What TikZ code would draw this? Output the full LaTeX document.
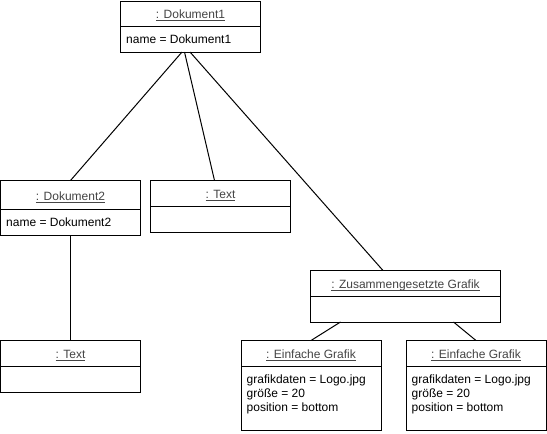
\documentclass[tikz,border=0pt]{standalone}
\usepackage{fontspec}
\setmainfont{Liberation Sans}
\usetikzlibrary{calc}

\definecolor{titlegray}{HTML}{444444}

% underlined object name with a fixed underline offset
\newcommand\ulabel[1]{\setbox0\hbox{#1}\rlap{\rule[-2.2pt]{\wd0}{0.6pt}}\box0}

\tikzset{
  objframe/.style={draw=black, line width=1pt, fill=white, rectangle,
    inner sep=0pt, outer sep=0pt, anchor=north west},
  objline/.style={draw=black, line width=1pt},
  objtitle/.style={anchor=base, inner sep=0pt, text=titlegray,
    font=\fontsize{12}{14}\selectfont},
  objattr/.style={inner sep=0pt, align=left, text=black,
    font=\fontsize{12}{14}\selectfont},
  link/.style={draw=black, line width=1pt},
}

% object box: name, x, y, width, height, title height, title
\newcommand\objbox[7]{%
  \node[objframe, minimum width=#4, minimum height=#5] (#1) at (#2,#3) {};
  \draw[objline] ($(#1.north west)+(0,#6)$) -- ($(#1.north east)+(0,#6)$);
  \node[objtitle] (#1-title) at ($(#1.north)+(0,#6/2+5)$) {\ulabel{: #7}};
}

\begin{document}
\begin{tikzpicture}[x=1pt,y=-1pt]
  \useasboundingbox[fill=white] (0,0) rectangle (547,434);

  % connector end points on the box edges
  \coordinate (c1) at (182,52);
  \coordinate (c2) at (184.5,52);
  \coordinate (c3) at (190,52);
  \coordinate (zgl) at (340.5,322);
  \coordinate (zgr) at (453.5,322);

  % objects
  \objbox{d1}{120.5}{1}{140}{51}{25.5}{Dokument1}
  \node[objattr, anchor=west] (d1-attr) at (126,39) {name = Dokument1};

  \objbox{d2}{0.5}{180.5}{140}{55}{29}{Dokument2}
  \node[objattr, anchor=west] (d2-attr) at (6,222.5) {name = Dokument2};

  \objbox{t1}{150.5}{180.5}{140}{52}{26}{Text}

  \objbox{zg}{310.5}{270.5}{190}{52}{26}{Zusammengesetzte Grafik}

  \objbox{t2}{0.5}{340.5}{140}{52}{26}{Text}

  \objbox{e1}{241}{340.5}{140}{89.5}{26}{Einfache Grafik}
  \node[objattr, anchor=north west] (e1-attr) at (246.5,374.5)
    {grafikdaten = Logo.jpg\\größe = 20\\position = bottom};

  \objbox{e2}{406}{340.5}{140}{89.5}{26}{Einfache Grafik}
  \node[objattr, anchor=north west] (e2-attr) at (411.5,374.5)
    {grafikdaten = Logo.jpg\\größe = 20\\position = bottom};

  % links between objects
  \draw[link] (c1) -- (d2.north);
  \draw[link] (c2) -- ([xshift=-6]t1.north);
  \draw[link] (c3) -- ([xshift=-22.5]zg.north);
  \draw[link] (d2.south) -- (t2.north);
  \draw[link] (zgl) -- (e1.north);
  \draw[link] (zgr) -- (e2.north);
\end{tikzpicture}
\end{document}
